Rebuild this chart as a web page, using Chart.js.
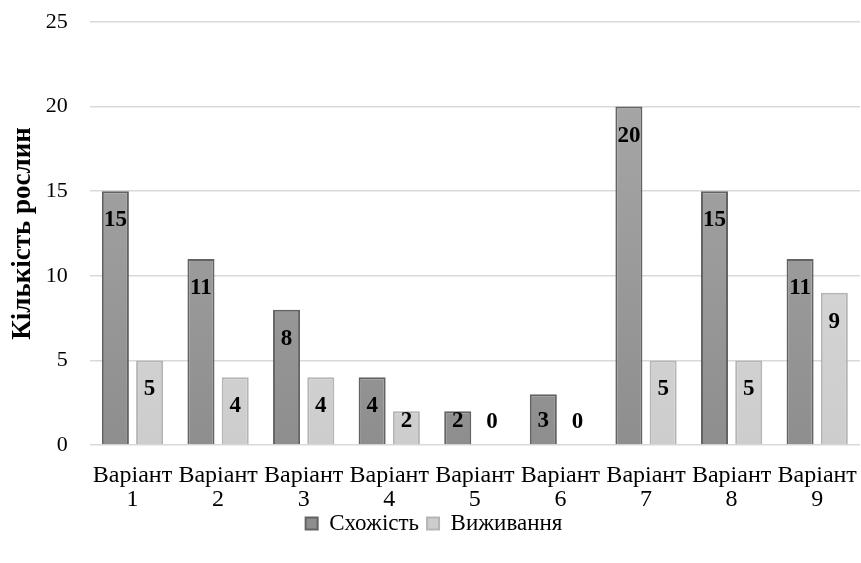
<!DOCTYPE html>
<html>
<head>
    <title>Кількість рослин</title>
    <meta charset="UTF-8">
    <script src="https://cdn.jsdelivr.net/npm/chart.js@4.4.1/dist/chart.umd.min.js"></script>
    <style>
        body { margin: 0; background: #fff; }
    </style>
</head>
<body>
    <canvas id="myChart" width="861" height="563"></canvas>

    <script>
        var categories = ['1', '2', '3', '4', '5', '6', '7', '8', '9'];
        var shozhist = [15, 11, 8, 4, 2, 3, 20, 15, 11];
        var vyzhyvannia = [5, 4, 4, 2, 0, 0, 5, 5, 9];
        var yTicks = [0, 5, 10, 15, 20, 25];

        var font = '"Liberation Serif", "Times New Roman", serif';

        function gradient(top, bottom) {
            return function (context) {
                var area = context.chart.chartArea;
                if (!area) return top;
                var g = context.chart.ctx.createLinearGradient(0, area.top, 0, area.bottom);
                g.addColorStop(0, top);
                g.addColorStop(1, bottom);
                return g;
            };
        }

        // value labels, placed inside the top of each bar
        var barLabels = {
            id: 'barLabels',
            afterDatasetsDraw: function (chart) {
                var ctx = chart.ctx;
                ctx.save();
                ctx.font = 'bold 23px ' + font;
                ctx.fillStyle = '#000';
                ctx.textAlign = 'center';
                ctx.textBaseline = 'middle';
                chart.data.datasets.forEach(function (ds, i) {
                    chart.getDatasetMeta(i).data.forEach(function (bar, j) {
                        var y = Math.min(bar.y + 29, bar.base - 23);
                        ctx.fillText(String(ds.data[j]), bar.x, y);
                    });
                });
                ctx.restore();
            }
        };

        // pull the legend a little closer to the axis labels
        var legendShift = {
            id: 'legendShift',
            afterLayout: function (chart) {
                chart.legend.top -= 8;
                chart.legend.bottom -= 8;
            }
        };

        var ctx = document.getElementById('myChart');
        var myChart = new Chart(ctx, {
            type: 'bar',
            data: {
                labels: categories.map(function (c) { return ['Варіант', c]; }),
                datasets: [{
                    label: 'Схожість',
                    data: shozhist,
                    backgroundColor: gradient('#ababab', '#8e8e8e'),
                    borderColor: '#636363',
                    borderWidth: 2,
                    borderSkipped: 'bottom'
                }, {
                    label: 'Виживання',
                    data: vyzhyvannia,
                    backgroundColor: gradient('#dedede', '#cdcdcd'),
                    borderColor: '#b5b5b5',
                    borderWidth: 2,
                    borderSkipped: 'bottom'
                }]
            },
            options: {
                responsive: false,
                animation: false,
                layout: { padding: { top: 0, right: 1, left: 8, bottom: 10 } },
                datasets: {
                    bar: { categoryPercentage: 0.8, barPercentage: 0.79 }
                },
                scales: {
                    x: {
                        grid: { display: false, drawTicks: true, tickLength: 19 },
                        border: { display: false },
                        ticks: {
                            color: '#000',
                            padding: 0,
                            maxRotation: 0,
                            autoSkip: false,
                            font: { family: font, size: 24, lineHeight: 1.0 }
                        }
                    },
                    y: {
                        min: 0,
                        max: 25,
                        afterBuildTicks: function (axis) {
                            axis.ticks = yTicks.map(function (v) { return { value: v }; });
                        },
                        afterFit: function (axis) {
                            axis.width -= 22;
                            axis.paddingTop = 22;
                            axis.paddingBottom = 0;
                        },
                        grid: { color: '#d9d9d9', lineWidth: 1.5, drawTicks: false },
                        border: { display: false },
                        ticks: {
                            color: '#000',
                            padding: 22,
                            font: { family: font, size: 22 }
                        },
                        title: {
                            display: true,
                            text: 'Кількість рослин',
                            color: '#000',
                            font: { family: font, size: 27, weight: 'bold', lineHeight: 1.1 },
                            padding: { top: 0, bottom: 8 }
                        }
                    }
                },
                plugins: {
                    legend: {
                        position: 'bottom',
                        labels: {
                            color: '#000',
                            boxWidth: 12,
                            boxHeight: 12,
                            padding: 8,
                            font: { family: font, size: 23 }
                        }
                    },
                    tooltip: { enabled: false }
                }
            },
            plugins: [barLabels, legendShift]
        });
    </script>
</body>
</html>
